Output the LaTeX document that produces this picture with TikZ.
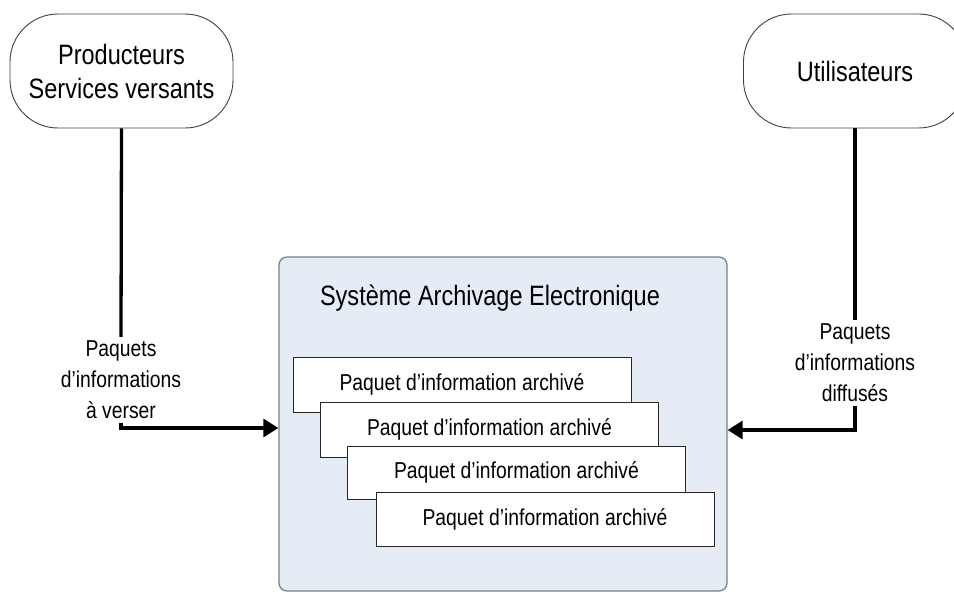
\documentclass[tikz,border=0pt]{standalone}
\usepackage{fontspec}
\setmainfont{Liberation Sans}[FakeStretch=0.84]
\usetikzlibrary{arrows.meta}
\definecolor{saefill}{HTML}{E6ECF6}
\definecolor{saeline}{HTML}{7F7F7F}
\tikzset{
  term/.style={draw=black!75, line width=0.9pt, fill=white, rounded corners=48pt,
    minimum width=223pt, minimum height=114pt, align=center, inner sep=0pt,
    font=\fontsize{28}{34}\selectfont},
  pkt/.style={draw=black!85, line width=0.9pt, fill=white, minimum width=338pt,
    minimum height=55pt, inner sep=0pt, font=\fontsize{23}{28}\selectfont},
  lbl/.style={align=center, inner sep=4pt, font=\fontsize{23}{31}\selectfont},
  conn/.style={line width=3.3pt, -{Triangle[length=15pt,width=18pt]}},
  plain/.style={line width=3.3pt}
}
\begin{document}
\begin{tikzpicture}[x=1pt,y=-1pt]
\useasboundingbox (0,0) rectangle (954,594);
% actors
\node[term] (prod) at (121.5,71) {Producteurs\\Services versants};
\node[term] (util) at (855,71) {Utilisateurs};
% system
\node[draw=saeline, line width=1.3pt, fill=saefill, rounded corners=8pt,
  minimum width=448pt, minimum height=334pt] (sae) at (503,424) {};
\node[font=\fontsize{28}{34}\selectfont, inner sep=0pt] (title) at (490,298) {Système Archivage Electronique};
% packages
\node[pkt] (p1) at (462,384.5) {Paquet d’information archivé};
\node[pkt] (p2) at (489.5,429.5) {Paquet d’information archivé};
\node[pkt, minimum height=53pt] (p3) at (516.5,472.5) {Paquet d’information archivé};
\node[pkt, minimum height=54pt] (p4) at (545,519) {Paquet d’information archivé};
% labels
\node[lbl] (lblL) at (121,380) {Paquets\\d’informations\\à verser};
\node[lbl] (lblR) at (855,363) {Paquets\\d’informations\\diffusés};
% connectors
\draw[plain] (prod.south) -- (lblL.north);
\draw[conn] (lblL.south) |- ([yshift=-4pt]sae.west);
\draw[plain] (util.south) -- (lblR.north);
\draw[conn] (lblR.south) |- ([yshift=-6pt]sae.east);
\end{tikzpicture}
\end{document}
